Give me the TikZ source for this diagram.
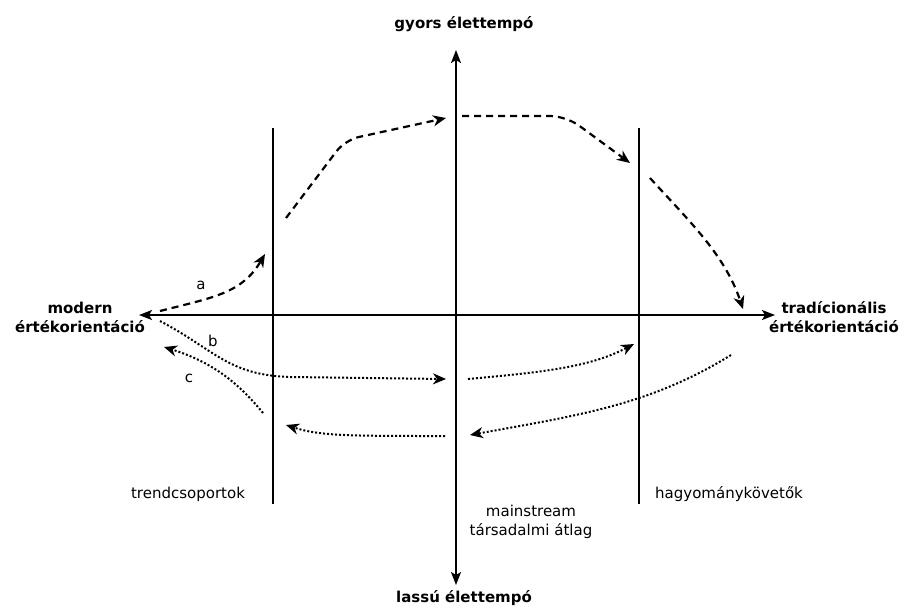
\documentclass[tikz,border=0pt]{standalone}
\usepackage{fontspec}
\setmainfont{DejaVu Sans}
\usetikzlibrary{arrows.meta}
\begin{document}
\begin{tikzpicture}[x=1pt,y=-1pt,
  axis/.style={line width=1.8pt,-{Stealth[length=13pt,width=10pt,inset=3pt]}},
  divider/.style={line width=1.6pt},
  dashcurve/.style={line width=2.2pt,dash pattern=on 7pt off 5pt,-{Stealth[length=13pt,width=11pt,inset=4pt]}},
  dotcurve/.style={line width=2pt,dash pattern=on 2pt off 2pt,-{Stealth[length=13pt,width=11pt,inset=4pt]}},
  boldlab/.style={font=\fontsize{15}{19}\selectfont\bfseries,align=center,inner sep=0pt},
  plainlab/.style={font=\fontsize{15}{19.5}\selectfont,align=center,inner sep=0pt},
  letter/.style={font=\fontsize{15}{18}\selectfont,inner sep=0pt}]
\useasboundingbox (0,0) rectangle (904,614);
% axes
\coordinate (vb) at (456,585);
\coordinate (vt) at (456,50);
\coordinate (hr) at (775,315);
\coordinate (hl) at (139,315);
\coordinate (hm) at (456,315);
\draw[axis] (hm) -- (hr);
\draw[axis] (hm) -- (hl);
\draw[axis] (hm) -- (vt);
\draw[axis] (hm) -- (vb);
% dividers
\coordinate (l1) at (273,128);
\coordinate (l2) at (273,504);
\coordinate (r1) at (639,128);
\coordinate (r2) at (639,504);
\draw[divider] (l1) -- (l2);
\draw[divider] (r1) -- (r2);
% labels
\node[boldlab] (top) at (464,24) {gyors élettempó};
\node[boldlab] (bot) at (464,598) {lassú élettempó};
\node[boldlab] (left) at (80,317) {modern\\értékorientáció};
\node[boldlab] (right) at (834,317) {tradícionális\\értékorientáció};
\node[plainlab] (trend) at (188,494) {trendcsoportok};
\node[plainlab] (hagy) at (729,494) {hagyománykövetők};
\node[plainlab] (main) at (531,522) {mainstream\\társadalmi átlag};
\node[letter] (la) at (201,285) {a};
\node[letter] (lb) at (213,341) {b};
\node[letter] (lc) at (189,378) {c};
% dashed path (fast)
\coordinate (a0) at (160,311);
\coordinate (a1) at (265,254);
\draw[dashcurve] (a0) .. controls (215,297) and (242,293) .. (a1);
\coordinate (d0) at (286,218);
\coordinate (d1) at (345,140);
\coordinate (d2) at (446,118);
\draw[dashcurve,rounded corners=14pt] (d0) -- (d1) -- (d2);
\coordinate (e0) at (462,116);
\coordinate (e1) at (566,116);
\coordinate (e2) at (630,163);
\draw[dashcurve,rounded corners=16pt] (e0) -- (e1) -- (e2);
\coordinate (f0) at (650,178);
\coordinate (f1) at (743,309);
\draw[dashcurve] (f0) .. controls (690,222) and (725,255) .. (f1);
% dotted paths
\coordinate (b0) at (160,321);
\coordinate (b1) at (290,377);
\coordinate (b2) at (446,379);
\draw[dotcurve] (b0) .. controls (215,350) and (228,375) .. (b1) -- (b2);
\coordinate (g0) at (468,379);
\coordinate (g1) at (634,344);
\draw[dotcurve] (g0) .. controls (545,372) and (590,367) .. (g1);
\coordinate (h0) at (731,355);
\coordinate (h1) at (470,435);
\draw[dotcurve] (h0) .. controls (650,405) and (580,415) .. (h1);
\coordinate (k0) at (445,436);
\coordinate (k1) at (286,425);
\draw[dotcurve] (k0) .. controls (350,436) and (320,436) .. (k1);
\coordinate (c0) at (263,413);
\coordinate (c1) at (164,347);
\draw[dotcurve] (c0) .. controls (240,385) and (215,363) .. (c1);
\end{tikzpicture}
\end{document}
